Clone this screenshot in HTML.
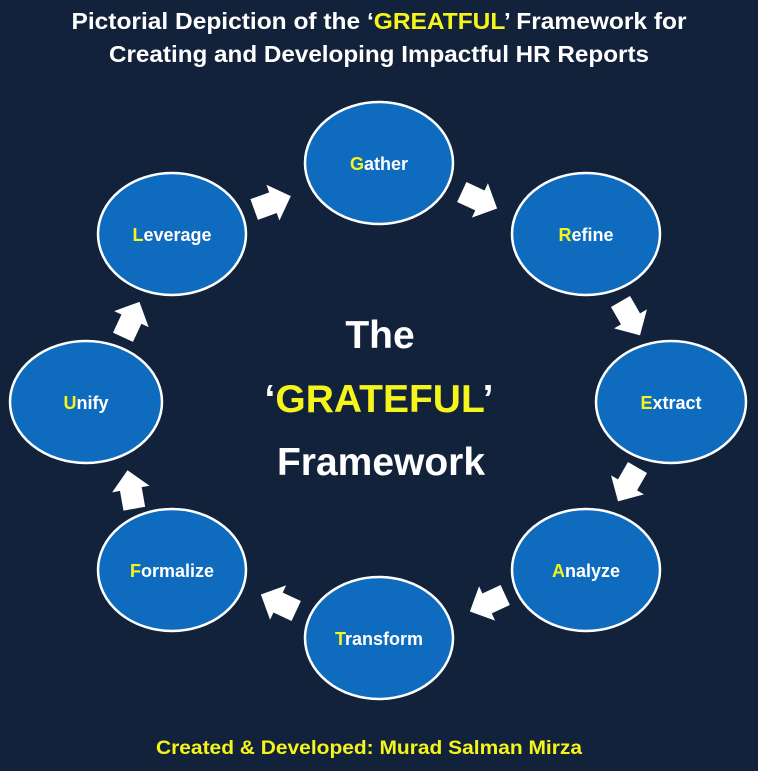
<!DOCTYPE html>
<html><head><meta charset="utf-8"><style>
html,body{margin:0;padding:0;background:#13223b;}
svg{display:block}
text{font-family:"Liberation Sans",Arial,sans-serif;font-weight:bold;}
</style></head><body>
<svg width="758" height="771" viewBox="0 0 758 771" xmlns="http://www.w3.org/2000/svg">
<rect width="758" height="771" fill="#13223b"/>
<defs>
<path id="ar" d="M-19,-11 L1,-11 L1,-19 L20,0 L1,19 L1,11 L-19,11 Z" fill="#fff"/>
</defs>
<text x="379" y="29" font-size="23" fill="#fff" text-anchor="middle" textLength="615" lengthAdjust="spacingAndGlyphs">Pictorial Depiction of the ‘<tspan fill="#f5f51c">GREATFUL</tspan>’ Framework for</text>
<text x="379" y="62" font-size="23" fill="#fff" text-anchor="middle" textLength="540" lengthAdjust="spacingAndGlyphs">Creating and Developing Impactful HR Reports</text>

<g stroke="#fff" stroke-width="2.5" fill="#0e6bbd">
<ellipse cx="379" cy="163" rx="74" ry="61"/>
<ellipse cx="586" cy="234" rx="74" ry="61"/>
<ellipse cx="671" cy="402" rx="75" ry="61"/>
<ellipse cx="586" cy="570" rx="74" ry="61"/>
<ellipse cx="379" cy="638" rx="74" ry="61"/>
<ellipse cx="172" cy="570" rx="74" ry="61"/>
<ellipse cx="86" cy="402" rx="76" ry="61"/>
<ellipse cx="172" cy="234" rx="74" ry="61"/>
</g>
<g font-size="18" fill="#fff" text-anchor="middle">
<text x="379" y="170"><tspan fill="#f5f51c">G</tspan>ather</text>
<text x="586" y="241"><tspan fill="#f5f51c">R</tspan>efine</text>
<text x="671" y="409"><tspan fill="#f5f51c">E</tspan>xtract</text>
<text x="586" y="577"><tspan fill="#f5f51c">A</tspan>nalyze</text>
<text x="379" y="645"><tspan fill="#f5f51c">T</tspan>ransform</text>
<text x="172" y="577"><tspan fill="#f5f51c">F</tspan>ormalize</text>
<text x="86" y="409"><tspan fill="#f5f51c">U</tspan>nify</text>
<text x="172" y="241"><tspan fill="#f5f51c">L</tspan>everage</text>
</g>
<use href="#ar" transform="translate(272,203) rotate(-20)"/>
<use href="#ar" transform="translate(479,200) rotate(25)"/>
<use href="#ar" transform="translate(630,318) rotate(60)"/>
<use href="#ar" transform="translate(628,484) rotate(120)"/>
<use href="#ar" transform="translate(488,603) rotate(155)"/>
<use href="#ar" transform="translate(279,603) rotate(205)"/>
<use href="#ar" transform="translate(131,490) rotate(-100)"/>
<use href="#ar" transform="translate(131,320) rotate(-65)"/>

<g font-size="39" text-anchor="middle" fill="#fff">
<text x="380" y="348">The</text>
<text x="379" y="412"><tspan>‘</tspan><tspan fill="#f5f51c">GRATEFUL</tspan><tspan>’</tspan></text>
<text x="381" y="475">Framework</text>
</g>
<text x="369" y="754" font-size="19" fill="#f5f51c" text-anchor="middle" textLength="426" lengthAdjust="spacingAndGlyphs">Created &amp; Developed: Murad Salman Mirza</text>
</svg>
</body></html>
